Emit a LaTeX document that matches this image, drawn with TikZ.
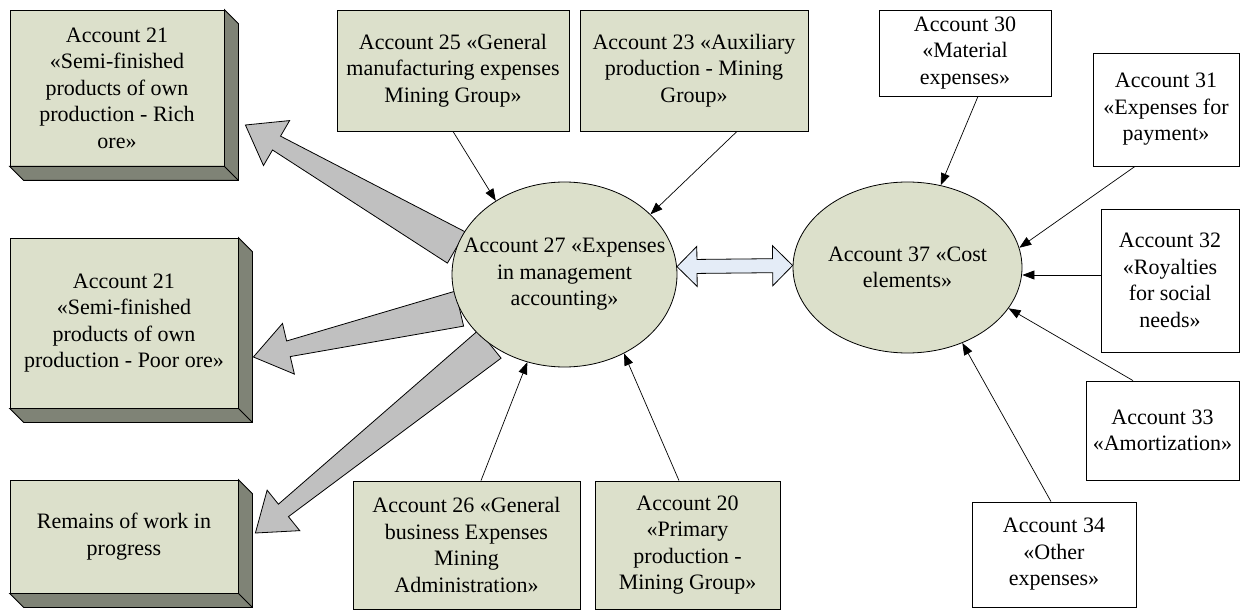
\documentclass[tikz,border=0pt]{standalone}
\usepackage{fontspec}
\setmainfont{Liberation Serif}
\usepackage{tikz}
\usetikzlibrary{arrows.meta,calc,shapes.geometric}
\definecolor{face}{HTML}{DCE0CB}
\definecolor{depth}{HTML}{7F8376}
\definecolor{fat}{HTML}{C0C0C0}
\definecolor{link}{HTML}{E4ECF7}
\pgfdeclarelayer{back}
\pgfsetlayers{back,main}
% grey tapered arrow from #1 to #2
\newcommand{\fatarrow}[2]{%
  \coordinate (fah) at ($(#2)!36pt!(#1)$);
  \filldraw[fat arrow] ($(#1)!18pt!90:(#2)$) -- ($(fah)!8pt!90:(#2)$) -- ($(fah)!26pt!90:(#2)$) -- (#2) -- ($(fah)!26pt!-90:(#2)$) -- ($(fah)!8pt!-90:(#2)$) -- ($(#1)!18pt!-90:(#2)$) -- cycle;}

\begin{document}
\begin{tikzpicture}[x=1pt,y=-1pt,font=\fontsize{22}{26.5}\selectfont,
  acct/.style={draw,line width=0.8pt,fill=face,align=center,inner sep=2pt},
  plain/.style={draw,line width=0.8pt,fill=white,align=center,inner sep=2pt},
  pool/.style={draw,ellipse,line width=0.8pt,fill=face,inner sep=0pt},
  depth face/.style={draw,line width=0.8pt,fill=depth},
  fat arrow/.style={draw,line width=0.8pt,fill=fat},
  link arrow/.style={draw,line width=0.8pt,fill=link},
  feed/.style={-{Triangle[length=12pt,width=9pt]},line width=0.7pt}]
\useasboundingbox (0,0) rectangle (1240,612);
% left: where the expenses go, boxes with depth
\node[acct,minimum width=214,minimum height=156] (r21) at (117,88) {Account 21\\«Semi-finished\\products of own\\production - Rich\\ore»};
\node[acct,minimum width=228,minimum height=170] (p21) at (124,323) {Account 21\\«Semi-finished\\products of own\\production - Poor ore»};
\node[acct,minimum width=228,minimum height=113] (wip) at (124,536.5) {Remains of work in\\progress};
\foreach \n in {r21,p21,wip} {\filldraw[depth face] (\n.north east) -- ++(14,14) -- ([shift={(14,14)}]\n.south east) -- ([shift={(14,14)}]\n.south west) -- (\n.south west) -- (\n.south east) -- cycle; \draw[line width=0.8pt] (\n.south east) -- ++(14,14);}
% middle: accounts feeding account 27
\node[acct,minimum width=232,minimum height=121] (b25) at (453,70.5) {Account 25 «General\\manufacturing expenses\\Mining Group»};
\node[acct,minimum width=228,minimum height=121] (b23) at (694,70.5) {Account 23 «Auxiliary\\production - Mining\\Group»};
\node[acct,minimum width=227,minimum height=128] (b26) at (466.5,545) {Account 26 «General\\business Expenses\\Mining\\Administration»};
\node[acct,minimum width=185,minimum height=128] (b20) at (687.5,545) {Account 20\\«Primary\\production -\\Mining Group»};
\node[pool,minimum width=225,minimum height=185] (e27) at (564.5,274.5) {};
\node[align=center] (e27t) at (e27) {Account 27 «Expenses\\in management\\accounting»};
\node[pool,minimum width=229,minimum height=171] (e37) at (907.5,267.5) {};
\node[align=center] (e37t) at (e37) {Account 37 «Cost\\elements»};
% right: cost elements
\node[plain,minimum width=172,minimum height=86] (b30) at (965,53) {Account 30\\«Material\\expenses»};
\node[plain,minimum width=146,minimum height=113] (b31) at (1166,109.5) {Account 31\\«Expenses for\\payment»};
\node[plain,minimum width=138,minimum height=143] (b32) at (1170,280.5) {Account 32\\«Royalties\\for social\\needs»};
\node[plain,minimum width=153,minimum height=99] (b33) at (1162.5,430.5) {Account 33\\«Amortization»};
\node[plain,minimum width=164,minimum height=105] (b34) at (1054,554.5) {Account 34\\«Other\\expenses»};
% grey arrows out of account 27
\coordinate (tr21) at ([shift={(21,37)}]r21.east);
\coordinate (tp21) at ([shift={(15,34)}]p21.east);
\coordinate (twip) at ([shift={(17,-3.5)}]wip.east);
\begin{pgfonlayer}{back}
\fatarrow{e27.166}{tr21}
\fatarrow{e27.198}{tp21}
\fatarrow{e27.223}{twip}
\end{pgfonlayer}
% thin arrows in
\draw[feed] (b25.south) -- (e27.133);
\draw[feed] ([xshift=43]b23.south) -- (e27.35);
\draw[feed] ([xshift=14.5]b26.north) -- (e27.247);
\draw[feed] ([xshift=-8.5]b20.north) -- (e27.307);
\draw[feed] ([xshift=13]b30.south) -- (e37.68);
\draw[feed] ([xshift=-31]b31.south) -- (e37.10);
\coordinate (s32) at ([yshift=5.5]b32.west);
\draw[feed] (s32) -- (s32 -| e37.east);
\draw[feed] ([xshift=-29.5]b33.north) -- (e37.-22);
\draw[feed] ([xshift=-3]b34.north) -- (e37.-54);
% two-way link between 27 and 37
\coordinate (ha) at ($(e27.4)!20pt!(e37.179)$);
\coordinate (hb) at ($(e37.179)!20pt!(e27.4)$);
\filldraw[link arrow] (e27.4) -- ($(ha)!20pt!90:(e37.179)$) -- ($(ha)!7pt!90:(e37.179)$) -- ($(hb)!7pt!-90:(e27.4)$) -- ($(hb)!20pt!-90:(e27.4)$) -- (e37.179) -- ($(hb)!20pt!90:(e27.4)$) -- ($(hb)!7pt!90:(e27.4)$) -- ($(ha)!7pt!-90:(e37.179)$) -- ($(ha)!20pt!-90:(e37.179)$) -- cycle;
\end{tikzpicture}
\end{document}
